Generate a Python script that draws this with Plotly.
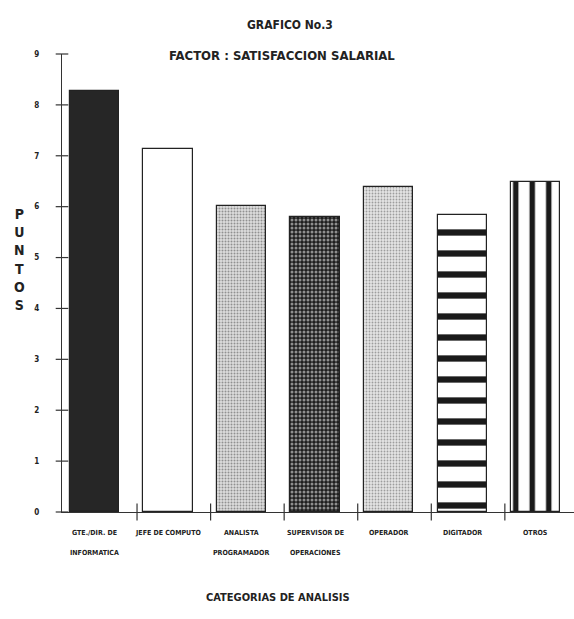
import plotly.graph_objects as go

# Survey scores per job category
categorias = ["GTE./DIR. DE<br>INFORMATICA", "JEFE DE COMPUTO", "ANALISTA<br>PROGRAMADOR",
              "SUPERVISOR DE<br>OPERACIONES", "OPERADOR", "DIGITADOR", "OTROS"]
puntos = [8.27, 7.13, 6.01, 5.80, 6.39, 5.83, 6.48]
y_ticks = [0, 1, 2, 3, 4, 5, 6, 7, 8, 9]

FONT = "Liberation Sans Narrow, DejaVu Sans Condensed, Arial Narrow, sans-serif"
INK = "#222222"

# Fill style of each bar (solid, plain, dotted, grid, lines)
fills = [
    dict(color="#262626", pattern=dict(shape="")),
    dict(color="white", pattern=dict(shape="")),
    dict(color="white", pattern=dict(shape=".", fgcolor="#444444", bgcolor="#dddddd", size=3, solidity=0.35)),
    dict(color="#1e1e1e", pattern=dict(shape=".", fgcolor="white", bgcolor="#1e1e1e", size=4, solidity=0.45)),
    dict(color="white", pattern=dict(shape=".", fgcolor="#555555", bgcolor="#e4e4e4", size=3, solidity=0.3)),
    dict(color="white", pattern=dict(shape="-", fgcolor="#1a1a1a", bgcolor="white", size=21, solidity=0.3, fgopacity=1)),
    dict(color="white", pattern=dict(shape="|", fgcolor="#1a1a1a", bgcolor="white", size=16.5, solidity=0.33, fgopacity=1)),
]

xpos = list(range(len(categorias)))
X0 = -0.44
fig = go.Figure()
for i, (v, f) in enumerate(zip(puntos, fills)):
    fig.add_trace(go.Bar(
        x=[xpos[i]], y=[v], width=0.67,
        marker=dict(color=f["color"], pattern=f["pattern"],
                    line=dict(color=INK, width=1.2)),
        showlegend=False, hoverinfo="skip"))

# Crossing tick marks on both axes
fig.add_trace(go.Scatter(
    x=[X0] * len(y_ticks), y=y_ticks, mode="markers", cliponaxis=False,
    marker=dict(symbol="line-ew-open", size=9, color="#333333",
                line=dict(color="#333333", width=1.2)),
    showlegend=False, hoverinfo="skip"))
bounds = [i + 0.58 for i in range(len(categorias) - 1)]
fig.add_trace(go.Scatter(
    x=bounds, y=[0] * len(bounds), mode="markers", cliponaxis=False,
    marker=dict(symbol="line-ns-open", size=12, color="#333333",
                line=dict(color="#333333", width=1.2)),
    showlegend=False, hoverinfo="skip"))

# Category labels (one annotation per text line)
for i, c in enumerate(categorias):
    for k, line in enumerate(c.split("<br>")):
        fig.add_annotation(x=xpos[i], xref="x", y=-0.046 - 0.044 * k, yref="paper",
                           text=line, showarrow=False, yanchor="middle",
                           font=dict(family=FONT, size=7, color=INK, weight="bold"))

fig.add_annotation(x=0.445, y=1.083, xref="paper", yref="paper", text="GRAFICO No.3",
                   showarrow=False, font=dict(family=FONT, size=12, color=INK, weight="bold"))
fig.add_annotation(x=0.43, y=1.0175, xref="paper", yref="paper",
                   text="FACTOR : SATISFACCION SALARIAL",
                   showarrow=False, font=dict(family=FONT, size=13, color=INK, weight="bold"))
fig.add_annotation(x=-0.0977, y=0.552, xref="paper", yref="paper",
                   text="P<br>U<br>N<br>T<br>O<br>S", showarrow=False, align="center",
                   font=dict(family=FONT, size=14, color=INK, weight="bold"))
fig.add_annotation(x=0.422, y=-0.205, xref="paper", yref="paper",
                   text="CATEGORIAS DE ANALISIS", showarrow=False,
                   font=dict(family=FONT, size=11, color=INK, weight="bold"))

fig.update_layout(
    width=574, height=619,
    margin=dict(l=62, r=0, t=54, b=107),
    paper_bgcolor="white", plot_bgcolor="white",
    bargap=0,
    xaxis=dict(range=[X0, 6.52], showgrid=False, zeroline=False, showline=True,
               linecolor="#333333", linewidth=1.2, showticklabels=False, ticks="",
               fixedrange=True),
    yaxis=dict(range=[0, 9], tickvals=y_ticks, showgrid=False, zeroline=False,
               showline=True, linecolor="#333333", linewidth=1.2, ticks="",
               ticklabelstandoff=20,
               tickfont=dict(family=FONT, size=8, color=INK, weight="bold"),
               fixedrange=True),
)

fig.write_html("out.html")
